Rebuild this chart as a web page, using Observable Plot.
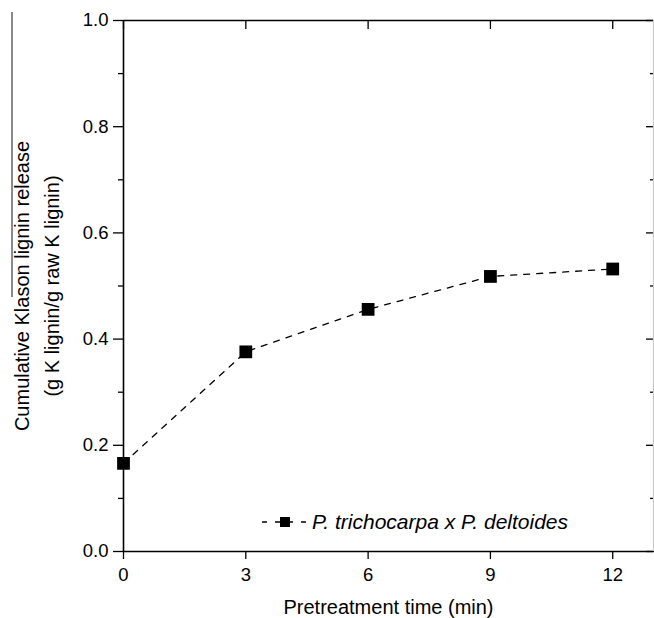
<!DOCTYPE html>
<html>
<head>
<meta charset="utf-8">
<script src="https://cdn.jsdelivr.net/npm/d3@7"></script>
<script src="https://cdn.jsdelivr.net/npm/@observablehq/plot@0.6"></script>
<style>
  html, body { margin: 0; padding: 0; background: white; }
  #wrap { position: relative; width: 654px; height: 618px; font-family: "Liberation Sans", Arial, sans-serif; }
  #edge { position: absolute; left: 11px; top: 12px; width: 1.5px; height: 285px; background: #8a8a8a; }
  #legend { position: absolute; left: 258px; top: 510px; height: 24px; display: flex; align-items: center; font-size: 21px; font-style: italic; color: #000; white-space: nowrap; }
</style>
</head>
<body>
<div id="wrap">
  <div id="edge"></div>
  <div id="legend"></div>
</div>
<script>
const times = [0, 3, 6, 9, 12];
const release = [0.166, 0.376, 0.456, 0.518, 0.532];
const seriesName = "P. trichocarpa x P. deltoides";
const xTicks = [0, 3, 6, 9, 12];
const yTicks = [0, 0.2, 0.4, 0.6, 0.8, 1.0];
const yMinor = [0.1, 0.3, 0.5, 0.7, 0.9];
const xLabel = "Pretreatment time (min)";
const yLabel1 = "Cumulative Klason lignin release";
const yLabel2 = "(g K lignin/g raw K lignin)";

const data = times.map((t, i) => ({time: t, value: release[i]}));
const blank = () => "";

const chart = Plot.plot({
  width: 654,
  height: 618,
  marginLeft: 123,
  marginRight: 1,
  marginTop: 20,
  marginBottom: 67,
  style: {fontFamily: "'Liberation Sans', Arial, sans-serif", fontSize: "18.5px", color: "black", background: "white", overflow: "visible"},
  x: {domain: [0, 13]},
  y: {domain: [0, 1]},
  marks: [
    Plot.axisX({ticks: xTicks, tickSize: 8, tickPadding: 8, label: null, fontSize: 18.5, strokeWidth: 1.3}),
    Plot.axisX({anchor: "top", ticks: xTicks, tickSize: -8, tickFormat: blank, label: null, strokeWidth: 1.3}),
    Plot.axisY({ticks: yTicks, tickSize: 10, tickPadding: 5, tickFormat: d3.format(".1f"), label: null, fontSize: 18.5, strokeWidth: 1.3}),
    Plot.axisY({ticks: yMinor, tickSize: 5, tickFormat: blank, label: null, strokeWidth: 1.3}),
    Plot.axisY({anchor: "right", ticks: yTicks, tickSize: -8, tickFormat: blank, label: null, strokeWidth: 1.3}),
    Plot.axisY({anchor: "right", ticks: yMinor, tickSize: -4, tickFormat: blank, label: null, strokeWidth: 1.3}),
    Plot.ruleX([0], {strokeWidth: 1.6}),
    Plot.ruleY([0], {strokeWidth: 1.6}),
    Plot.ruleY([1], {strokeWidth: 1.6}),
    Plot.ruleX([13], {stroke: "#c8c8c8", strokeWidth: 1.2}),
    Plot.line(data, {x: "time", y: "value", stroke: "black", strokeWidth: 1.3, strokeDasharray: "6,7"}),
    Plot.dot(data, {x: "time", y: "value", symbol: "square", r: 7.2, fill: "black", stroke: "none"}),
    Plot.text([yLabel1], {text: d => d, frameAnchor: "left", textAnchor: "middle", lineAnchor: "middle", rotate: -90, dx: -101, fontSize: 20}),
    Plot.text([yLabel2], {text: d => d, frameAnchor: "left", textAnchor: "middle", lineAnchor: "middle", rotate: -90, dx: -71, fontSize: 20}),
    Plot.text([xLabel], {text: d => d, frameAnchor: "bottom", textAnchor: "middle", lineAnchor: "middle", dy: 56, fontSize: 20})
  ]
});
document.getElementById("wrap").prepend(chart);

// legend
const legend = document.getElementById("legend");
const ns = "http://www.w3.org/2000/svg";
const sw = document.createElementNS(ns, "svg");
sw.setAttribute("width", 52);
sw.setAttribute("height", 24);
const ln = document.createElementNS(ns, "line");
ln.setAttribute("x1", 4); ln.setAttribute("x2", 48);
ln.setAttribute("y1", 12); ln.setAttribute("y2", 12);
ln.setAttribute("stroke", "black"); ln.setAttribute("stroke-width", 1.3);
ln.setAttribute("stroke-dasharray", "5,8");
sw.appendChild(ln);
const sq = document.createElementNS(ns, "rect");
sq.setAttribute("x", 22); sq.setAttribute("y", 7);
sq.setAttribute("width", 10); sq.setAttribute("height", 10);
sq.setAttribute("fill", "black");
sw.appendChild(sq);
legend.appendChild(sw);
const sp = document.createElement("span");
sp.textContent = seriesName;
sp.style.marginLeft = "2px";
legend.appendChild(sp);
</script>
</body>
</html>
